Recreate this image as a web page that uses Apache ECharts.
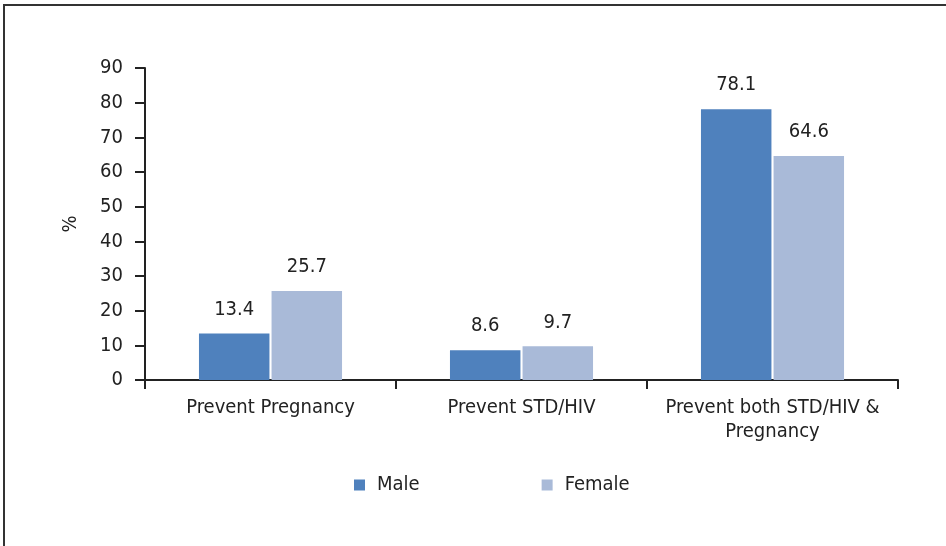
<!DOCTYPE html>
<html lang="en">
<head>
    <meta charset="UTF-8">
    <title>Reasons for condom use</title>
    <style>
        html, body { margin: 0; padding: 0; background: #fff; }
        #main { width: 946px; height: 546px; }
    </style>
    <script src="https://cdn.jsdelivr.net/npm/echarts@6/dist/echarts.min.js"></script>
</head>
<body>
    <div id="main"></div>
    <script>
        // data
        var categories = ['Prevent Pregnancy', 'Prevent STD/HIV', 'Prevent both STD/HIV &\nPregnancy'];
        var maleValues = [13.4, 8.6, 78.1];
        var femaleValues = [25.7, 9.7, 64.6];

        var font = "'DejaVu Sans Condensed', 'Liberation Sans Narrow', 'Arial Narrow', sans-serif";
        var fs = 20;

        var myChart = echarts.init(document.getElementById('main'));

        var option = {
            animation: false,
            textStyle: { fontFamily: font, color: '#222' },
            graphic: [{
                type: 'rect',
                shape: { x: 4, y: 5, width: 960, height: 560 },
                style: { fill: 'none', stroke: '#333', lineWidth: 2 },
                silent: true
            }],
            grid: { left: 145, right: 48, top: 68, bottom: 166 },
            legend: {
                bottom: 46,
                left: 349,
                itemWidth: 11,
                itemHeight: 11,
                itemGap: 122,
                icon: 'rect',
                textStyle: { fontFamily: font, fontSize: fs, color: '#222', padding: [0, 0, 0, 7] },
                data: ['Male', 'Female']
            },
            xAxis: {
                type: 'category',
                data: categories,
                axisLine: { lineStyle: { color: '#222', width: 2 } },
                axisTick: { show: true, length: 9, lineStyle: { color: '#222', width: 2 } },
                axisLabel: { fontFamily: font, fontSize: fs, color: '#222', margin: 16, lineHeight: 24, interval: 0 }
            },
            yAxis: {
                type: 'value',
                min: 0,
                max: 90,
                interval: 10,
                name: '%',
                nameLocation: 'middle',
                nameGap: 64,
                nameTextStyle: { fontFamily: font, fontSize: fs, color: '#222' },
                axisLine: { show: true, lineStyle: { color: '#222', width: 2 } },
                axisTick: { show: true, length: 10, lineStyle: { color: '#222', width: 2 } },
                axisLabel: { fontFamily: font, fontSize: fs, color: '#222', margin: 22 },
                splitLine: { show: false }
            },
            series: [
                {
                    name: 'Male',
                    type: 'bar',
                    data: maleValues,
                    barGap: '3%',
                    barCategoryGap: '43%',
                    itemStyle: { color: '#4f81bd' },
                    label: { show: true, position: 'top', distance: 14, fontFamily: font, fontSize: fs, color: '#222' }
                },
                {
                    name: 'Female',
                    type: 'bar',
                    data: femaleValues,
                    barGap: '3%',
                    barCategoryGap: '43%',
                    itemStyle: { color: '#a9bad8' },
                    label: { show: true, position: 'top', distance: 14, fontFamily: font, fontSize: fs, color: '#222' }
                }
            ]
        };

        myChart.setOption(option);
    </script>
</body>
</html>
